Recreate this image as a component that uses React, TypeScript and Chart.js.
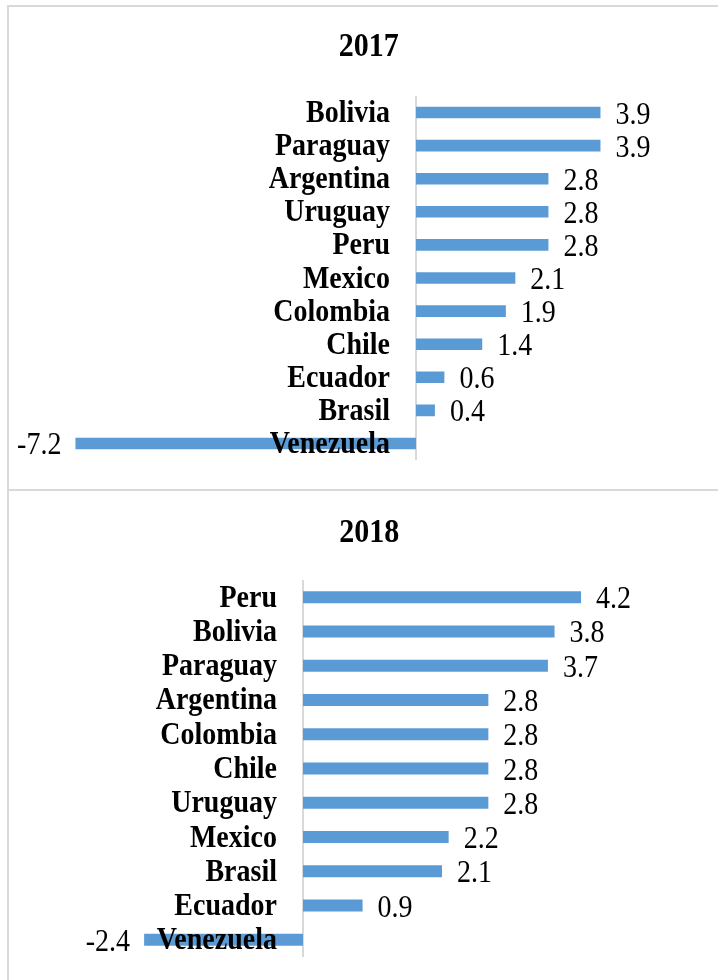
import React, { useEffect, useRef } from "react";
import { Chart, registerables } from "chart.js";

Chart.register(...registerables);

const FONT = '"Liberation Serif", "Times New Roman", Times, serif';

const categories2017 = ["Bolivia", "Paraguay", "Argentina", "Uruguay", "Peru", "Mexico", "Colombia", "Chile", "Ecuador", "Brasil", "Venezuela"];
const values2017 = [3.9, 3.9, 2.8, 2.8, 2.8, 2.1, 1.9, 1.4, 0.6, 0.4, -7.2];

const categories2018 = ["Peru", "Bolivia", "Paraguay", "Argentina", "Colombia", "Chile", "Uruguay", "Mexico", "Brasil", "Ecuador", "Venezuela"];
const values2018 = [4.2, 3.8, 3.7, 2.8, 2.8, 2.8, 2.8, 2.2, 2.1, 0.9, -2.4];

const BAR_COLOR = "#5b9bd5";
const AXIS_COLOR = "#d9d9d9";
const STRETCH = 1.15;

function stretchedText(ctx: CanvasRenderingContext2D, txt: string, x: number, y: number) {
  ctx.save();
  ctx.translate(x, y);
  ctx.scale(1, STRETCH);
  ctx.fillText(txt, 0, 0);
  ctx.restore();
}

const labelPlugin = {
  id: "barLabels",
  beforeDatasetsDraw(chart: any) {
    const ctx = chart.ctx;
    const xs = chart.scales.x;
    const x0 = Math.round(xs.getPixelForValue(0));
    const { top, bottom } = chart.chartArea;
    ctx.save();
    ctx.strokeStyle = AXIS_COLOR;
    ctx.lineWidth = 2;
    ctx.beginPath();
    ctx.moveTo(x0, top);
    ctx.lineTo(x0, bottom);
    ctx.stroke();
    ctx.restore();
  },
  afterDatasetsDraw(chart: any, _args: any, opts: any) {
    const ctx = chart.ctx;
    const xs = chart.scales.x;
    const ys = chart.scales.y;
    const x0 = xs.getPixelForValue(0);
    const labels: string[] = chart.data.labels;
    const data: number[] = chart.data.datasets[0].data;
    const pad = chart.options.layout.padding;
    ctx.save();
    ctx.fillStyle = "#000";
    ctx.textBaseline = "alphabetic";
    // title
    ctx.font = `bold 30px ${FONT}`;
    ctx.textAlign = "center";
    const cx = (pad.left + chart.width - pad.right) / 2;
    stretchedText(ctx, opts.title, cx, opts.titleBaseline);
    labels.forEach((lab, i) => {
      const yc = ys.getPixelForValue(i);
      ctx.font = `bold 28px ${FONT}`;
      ctx.textAlign = "right";
      stretchedText(ctx, lab, x0 - 26, yc + 9.5);
      const v = data[i];
      const xe = xs.getPixelForValue(v);
      ctx.font = `28px ${FONT}`;
      const txt = v.toFixed(1);
      if (v >= 0) {
        ctx.textAlign = "left";
        stretchedText(ctx, txt, xe + 15, yc + 11);
      } else {
        ctx.textAlign = "right";
        stretchedText(ctx, txt, xe - 14, yc + 11);
      }
    });
    ctx.restore();
  },
};

type PanelProps = {
  title: string;
  categories: string[];
  values: number[];
  min: number;
  max: number;
  padLeft: number;
  padRight: number;
  padTop: number;
  padBottom: number;
  titleBaseline: number;
  top: number;
};

function Panel(p: PanelProps) {
  const ref = useRef<HTMLCanvasElement | null>(null);
  useEffect(() => {
    if (!ref.current) return;
    const chart = new Chart(ref.current, {
      type: "bar",
      data: {
        labels: p.categories,
        datasets: [
          {
            data: p.values,
            backgroundColor: BAR_COLOR,
            borderWidth: 0,
            categoryPercentage: 1,
            barPercentage: 0.35,
          },
        ],
      },
      options: {
        indexAxis: "y",
        responsive: false,
        animation: false,
        layout: { padding: { left: p.padLeft, right: p.padRight, top: p.padTop, bottom: p.padBottom } },
        scales: {
          x: { type: "linear", min: p.min, max: p.max, display: false },
          y: { type: "category", display: false, offset: true },
        },
        plugins: {
          legend: { display: false },
          tooltip: { enabled: false },
          title: { display: false },
          barLabels: { title: p.title, titleBaseline: p.titleBaseline },
        },
      },
      plugins: [labelPlugin],
    } as any);
    return () => chart.destroy();
  }, []);
  return (
    <canvas
      ref={ref}
      width={718}
      height={490}
      style={{ position: "absolute", left: 0, top: p.top, width: 718, height: 490 }}
    />
  );
}

export default function App() {
  return (
    <div
      style={{
        position: "absolute",
        left: 0,
        top: 0,
        width: 718,
        height: 980,
        overflow: "hidden",
        background: "#fff",
      }}
    >
      <Panel
        title="2017"
        categories={categories2017}
        values={values2017}
        min={-8}
        max={6}
        padLeft={37.6}
        padRight={18.2}
        padTop={96}
        padBottom={30}
        titleBaseline={56}
        top={0}
      />
      <Panel
        title="2018"
        categories={categories2018}
        values={values2018}
        min={-4}
        max={6}
        padLeft={38.2}
        padRight={17.8}
        padTop={90}
        padBottom={23}
        titleBaseline={52}
        top={490}
      />
      <div
        style={{
          position: "absolute",
          left: 7,
          top: 5,
          width: 740,
          height: 482,
          border: `2px solid ${AXIS_COLOR}`,
          pointerEvents: "none",
        }}
      />
      <div
        style={{
          position: "absolute",
          left: 7,
          top: 489,
          width: 740,
          height: 600,
          border: `2px solid ${AXIS_COLOR}`,
          pointerEvents: "none",
        }}
      />
    </div>
  );
}
